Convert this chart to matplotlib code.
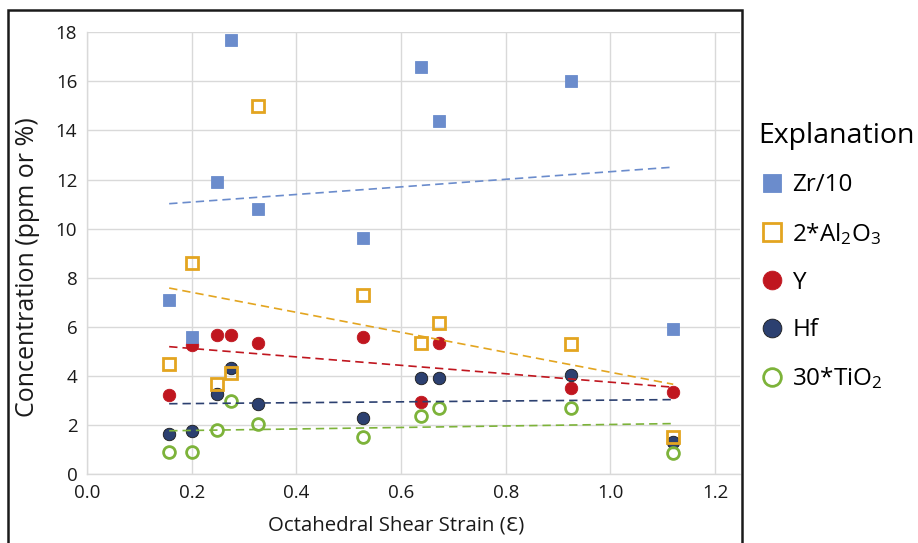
"""
Trace-element concentrations vs octahedral shear strain, with linear trendlines.
"""

import matplotlib
matplotlib.use("Agg")
import matplotlib.pyplot as plt
import numpy as np
from matplotlib.patches import Rectangle

# data
strain = [0.157, 0.200, 0.248, 0.275, 0.327, 0.527, 0.638, 0.673, 0.925, 1.120]
zr_10 = [7.1, 5.6, 11.9, 17.7, 10.8, 9.6, 16.6, 14.4, 16.0, 5.9]
al2o3_x2 = [4.5, 8.6, 3.65, 4.1, 15.0, 7.3, 5.35, 6.15, 5.3, 1.5]
y_ppm = [3.2, 5.25, 5.65, 5.65, 5.35, 5.6, 2.95, 5.35, 3.5, 3.35]
hf = [1.65, 1.75, 3.25, 4.3, 2.85, 2.3, 3.9, 3.9, 4.05, 1.3]
tio2_x30 = [0.88, 0.88, 1.8, 2.98, 2.05, 1.5, 2.35, 2.7, 2.7, 0.85]

x_ticks = [0.0, 0.2, 0.4, 0.6, 0.8, 1.0, 1.2]
y_ticks = [0, 2, 4, 6, 8, 10, 12, 14, 16, 18]

FONT = "Open Sans"
plt.rcParams["font.family"] = [FONT, "DejaVu Sans"]
plt.rcParams["mathtext.fontset"] = "custom"
plt.rcParams["mathtext.rm"] = FONT
plt.rcParams["mathtext.it"] = FONT + ":italic"
plt.rcParams["mathtext.bf"] = FONT + ":bold"

GRID = "#d9d9d9"
INK = "#1a1a1a"

# label, values, color, marker, hollow, zorder
series = [
    ("Zr/10", zr_10, "#6b8ccc", "s", False, 4),
    (r"2*Al$_\mathrm{2}$O$_\mathrm{3}$", al2o3_x2, "#e3a520", "s", True, 4),
    ("Y", y_ppm, "#c0161f", "o", False, 3),
    ("Hf", hf, "#2c4070", "o", False, 3),
    (r"30*TiO$_\mathrm{2}$", tio2_x30, "#7db33a", "o", True, 4),
]

fig = plt.figure(figsize=(9.18, 5.43), dpi=100)
ax = fig.add_axes([87 / 918, 1 - 474 / 543, (740 - 87) / 918, (474 - 32.3) / 543])

xs = np.array(strain)
for label, vals, color, marker, hollow, z in series:
    if hollow:
        ax.plot(xs, vals, linestyle="none", marker=marker, markersize=8.5,
                markerfacecolor="none", markeredgecolor=color,
                markeredgewidth=2.0, label=label, zorder=z)
    else:
        edge = INK if label == "Hf" else color
        ax.plot(xs, vals, linestyle="none", marker=marker, markersize=9,
                markerfacecolor=color, markeredgecolor=edge,
                markeredgewidth=0.6, label=label, zorder=z)

# linear trendlines over the data range
for label, vals, color, marker, hollow, z in series:
    slope, icept = np.polyfit(xs, vals, 1)
    xx = np.array([xs.min(), xs.max()])
    ax.plot(xx, slope * xx + icept, color=color, linewidth=1.2,
            linestyle=(0, (5, 3)), zorder=5)

ax.set_xlim(0, 1.2476)
ax.set_ylim(0, 18)
ax.set_xticks(x_ticks)
ax.set_xticklabels([f"{t:.1f}" for t in x_ticks])
ax.set_yticks(y_ticks)
ax.grid(True, color=GRID, linewidth=1.0, zorder=0)
ax.set_axisbelow(True)
for side in ("top", "right"):
    ax.spines[side].set_visible(False)
for side in ("left", "bottom"):
    ax.spines[side].set_color(GRID)
    ax.spines[side].set_linewidth(1.0)
ax.tick_params(length=0, labelsize=13.5, colors=INK)
ax.tick_params(axis="x", pad=7)
ax.tick_params(axis="y", pad=7)

ax.set_xlabel("Octahedral Shear Strain (Ɛ)", fontsize=14.7, color=INK)
ax.xaxis.set_label_coords(0.473, -0.095)
ax.set_ylabel("Concentration (ppm or %)", fontsize=18, color=INK)
ax.yaxis.set_label_coords(-0.072, 0.468)

leg = fig.legend(loc="upper left", bbox_to_anchor=(736 / 918, 1 - 100 / 543),
                 frameon=False, title="Explanation", fontsize=17.5,
                 title_fontsize=20.5, markerscale=1.5, labelspacing=0.97,
                 handlelength=1.2, handletextpad=0.22, alignment="left")

# black frame around the chart
fig.add_artist(Rectangle((8 / 918, -0.05), (742 - 8) / 918, 1.05 - 10 / 543,
                         transform=fig.transFigure, fill=False,
                         edgecolor=INK, linewidth=1.8, clip_on=False))

fig.savefig("out.png", dpi=100)
